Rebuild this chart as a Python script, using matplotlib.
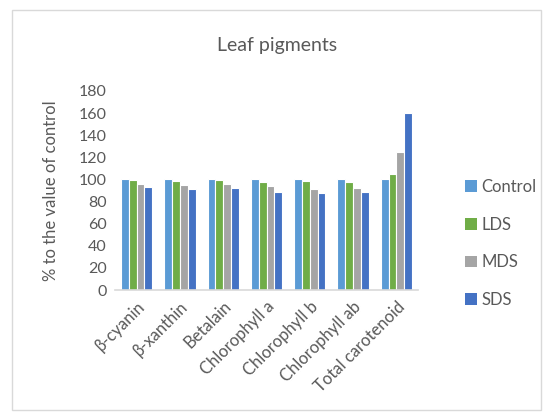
import matplotlib
matplotlib.use("Agg")
import matplotlib.pyplot as plt
import numpy as np
from matplotlib.patches import Rectangle

categories = ["β-cyanin", "β-xanthin", "Betalain", "Chlorophyll a", "Chlorophyll b", "Chlorophyll ab", "Total carotenoid"]
series_names = ["Control", "LDS", "MDS", "SDS"]
control = [100, 100, 100, 100, 100, 100, 100]
lds = [99.7, 98.6, 99.2, 97.4, 98.6, 97.7, 104.7]
mds = [95.9, 95.0, 95.6, 93.8, 91.1, 92.5, 124.6]
sds = [92.9, 91.6, 92.3, 88.4, 88.0, 88.4, 160.5]
colors = ["#5B9BD5", "#70AD47", "#A5A5A5", "#4472C4"]
yticks = [0, 20, 40, 60, 80, 100, 120, 140, 160, 180]

plt.rcParams['font.family'] = ['Lato', 'DejaVu Sans']
txt = "#595959"

W, H = 543, 416
fig = plt.figure(figsize=(W / 100, H / 100), dpi=100)
fig.patches.append(Rectangle((12 / W, 1 - 410 / H), (541 - 12) / W, (410 - 10) / H,
                             transform=fig.transFigure, fill=False, edgecolor="#d9d9d9", lw=1))

ax = fig.add_axes([115 / W, 1 - 290 / H, (418 - 115) / W, (290 - 91) / H])
x = np.arange(len(categories))
slot = 0.18
for i, (vals, c, name) in enumerate(zip([control, lds, mds, sds], colors, series_names)):
    ax.bar(x + (i - 1.5) * slot, vals, width=slot, color=c, edgecolor="white", linewidth=0.8, label=name)

ax.set_xlim(-0.5, len(categories) - 0.5)
ax.set_ylim(0, 180)
ax.set_yticks(yticks)
ax.set_yticklabels([str(v) for v in yticks], fontsize=11.5, color=txt)
ax.set_xticks(x)
ax.set_xticklabels(categories, rotation=45, ha="right", rotation_mode="anchor", fontsize=12, color=txt)
ax.tick_params(axis="both", length=0, pad=6)
for s in ["top", "right", "left"]:
    ax.spines[s].set_visible(False)
ax.spines["bottom"].set_color("#d9d9d9")
ax.spines["bottom"].set_linewidth(1.2)
ax.set_ylabel("% to the value of control", fontsize=12, color=txt, labelpad=14)

fig.text(277 / W, 1 - 45 / H, "Leaf pigments", ha="center", va="center", fontsize=14, color=txt)

leg = fig.legend(loc="upper left", bbox_to_anchor=(450 / W, 1 - 164 / H), frameon=False,
                 fontsize=12, labelspacing=1.3, handlelength=0.7, handleheight=0.7, handletextpad=0.3,
                 labelcolor=txt)
for h in leg.legend_handles:
    h.set_edgecolor("none")

fig.savefig("out.png", dpi=100)
